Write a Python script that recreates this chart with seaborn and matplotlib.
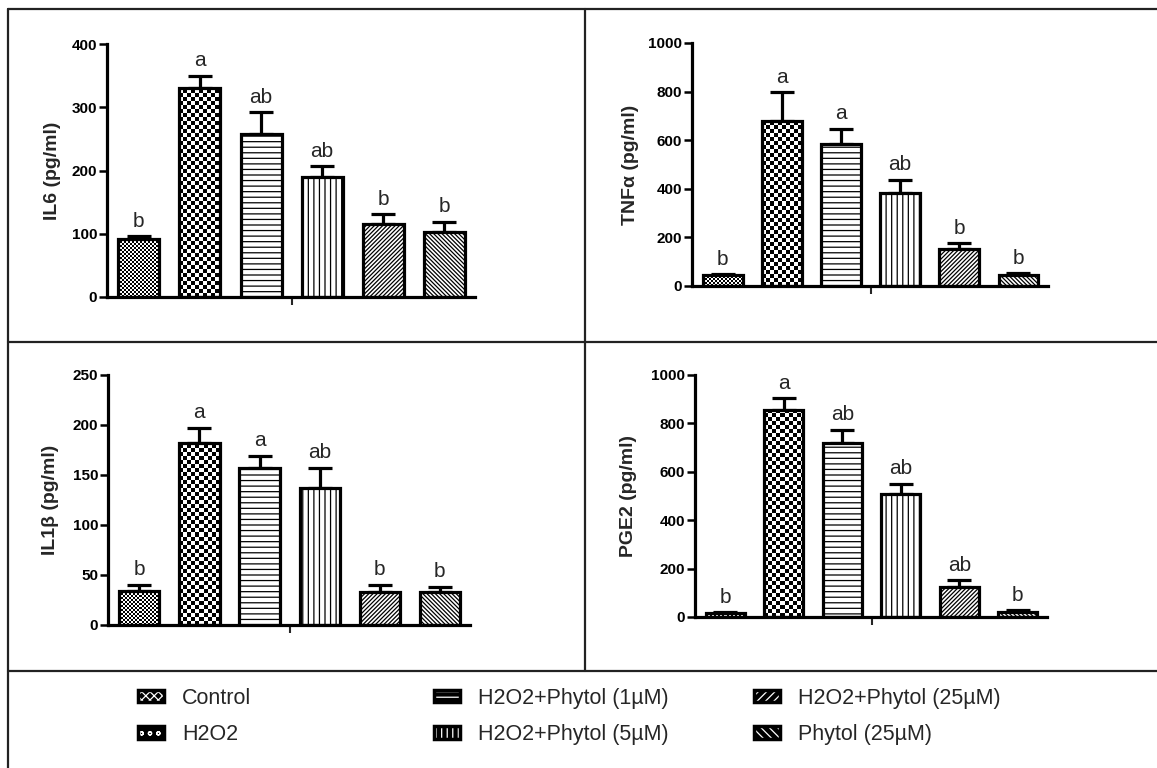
import numpy as np
import pandas as pd
import matplotlib
matplotlib.use("Agg")
import matplotlib.pyplot as plt
import seaborn as sns
from matplotlib.patches import Patch
from matplotlib.lines import Line2D

# ---------------- data ----------------
groups = ["Control", "H2O2", "H2O2+Phytol (1µM)", "H2O2+Phytol (5µM)",
          "H2O2+Phytol (25µM)", "Phytol (25µM)"]

il6_mean = [91, 330, 257, 189, 115, 102]
il6_err = [5, 20, 35, 18, 16, 17]
il6_letters = ["b", "a", "ab", "ab", "b", "b"]

tnf_mean = [45, 681, 585, 384, 151, 45]
tnf_err = [4, 117, 63, 53, 25, 7]
tnf_letters = ["b", "a", "a", "ab", "b", "b"]

il1b_mean = [34, 182, 157, 137, 33, 33]
il1b_err = [6, 15, 12, 20, 7, 5]
il1b_letters = ["b", "a", "a", "ab", "b", "b"]

pge2_mean = [17, 855, 718, 509, 126, 19]
pge2_err = [3, 49, 55, 41, 25, 8]
pge2_letters = ["b", "a", "ab", "ab", "ab", "b"]

ylabels = ["IL6 (pg/ml)", "TNFα (pg/ml)", "IL1β (pg/ml)", "PGE2 (pg/ml)"]
ymaxes = [400, 1000, 250, 1000]
ysteps = [100, 200, 50, 200]

# ---------------- style ----------------
sns.set_style("ticks")
plt.rcParams["font.family"] = ["Liberation Sans", "DejaVu Sans"]
plt.rcParams["hatch.linewidth"] = 0.9

W, H = 1157, 768
fig = plt.figure(figsize=(W / 100, H / 100), dpi=100)

def rect(left, top, right, bottom):
    return [left / W, 1 - bottom / H, (right - left) / W, (bottom - top) / H]

axes_rects = [rect(107, 44, 475, 297), rect(692, 43, 1048, 286),
              rect(108, 375, 470, 625), rect(695, 375, 1047, 617)]
label_x = [-0.125, -0.149, -0.135, -0.165]

hatches = [None, None, "---", "|||", "////////", "\\\\\\\\\\\\\\\\"]
checker_cells = {0: 2.0, 1: 4.0}
LW = 2.3

def checker_fill(ax, patch, cell):
    x0 = patch.get_x(); w = patch.get_width(); h = patch.get_height()
    p0 = ax.transData.transform((x0, 0))
    p1 = ax.transData.transform((x0 + w, h))
    nx = max(1, int(round(p1[0] - p0[0])))
    ny = max(1, int(round(p1[1] - p0[1])))
    jj, ii = np.meshgrid(np.arange(nx), np.arange(ny))
    arr = ((jj // cell + ii // cell) % 2).astype(float)
    ax.imshow(arr, cmap="gray", vmin=0, vmax=1, extent=(x0, x0 + w, 0, h),
              origin="lower", interpolation="nearest", aspect="auto", zorder=1.5)

panels = [(il6_mean, il6_err, il6_letters), (tnf_mean, tnf_err, tnf_letters),
          (il1b_mean, il1b_err, il1b_letters), (pge2_mean, pge2_err, pge2_letters)]

for k, (means, errs, letters) in enumerate(panels):
    ax = fig.add_axes(axes_rects[k])
    df = pd.DataFrame({"group": groups, "value": means})
    sns.barplot(data=df, x="group", y="value", hue="group", order=groups,
                hue_order=groups, palette=["white"] * 6, width=0.67,
                edgecolor="black", linewidth=LW, legend=False, ax=ax, errorbar=None)
    xs = np.arange(len(groups))
    ax.errorbar(xs, means, yerr=[np.zeros(len(errs)), errs], fmt="none",
                ecolor="black", elinewidth=LW, capsize=8.5, capthick=LW, zorder=1)
    ax.set_xlim(-0.52, 5.5)
    ax.set_ylim(0, ymaxes[k])
    bars = list(ax.patches)
    for i, p in enumerate(bars):
        p.set_zorder(2)
        if hatches[i] is not None:
            p.set_hatch(hatches[i])
        else:
            p.set_facecolor("none")
            checker_fill(ax, p, checker_cells[i])
    ax.set_xlim(-0.52, 5.5)
    ax.set_ylim(0, ymaxes[k])
    for i, (m, e, t) in enumerate(zip(means, errs, letters)):
        ax.annotate(t, (i, m + e), xytext=(0, 4), textcoords="offset points",
                    ha="center", va="bottom", fontsize=15)
    ax.set_yticks(np.arange(0, ymaxes[k] + 1, ysteps[k]))
    ax.set_xticks([2.5])
    ax.set_xticklabels([""])
    ax.set_xlabel("")
    ax.set_ylabel(ylabels[k], fontsize=14, fontweight="bold")
    ax.yaxis.set_label_coords(label_x[k], 0.5)
    for s in ["top", "right"]:
        ax.spines[s].set_visible(False)
    for s in ["left", "bottom"]:
        ax.spines[s].set_linewidth(LW)
        ax.spines[s].set_color("black")
    ax.tick_params(axis="y", direction="out", length=6, width=1.8, labelsize=11,
                   colors="black", pad=1)
    ax.tick_params(axis="x", direction="out", length=6, width=1.5)
    for lab in ax.get_yticklabels():
        lab.set_fontweight("bold")

# ---------------- frame lines ----------------
def fline(x0, y0, x1, y1):
    fig.add_artist(Line2D([x0 / W, x1 / W], [1 - y0 / H, 1 - y1 / H],
                          color="#222222", linewidth=1.6, transform=fig.transFigure))

fline(7.5, 9, W, 9)
fline(7.5, 9, 7.5, H)
fline(585, 9, 585, 671)
fline(7.5, 342, W, 342)
fline(7.5, 671, W, 671)

# ---------------- legend ----------------
leg_hatch = ["xxxx", "oo", "---", "|||", "////", "\\\\\\\\"]

def make_handle(h):
    base = Patch(facecolor="black", edgecolor="black", linewidth=0)
    pat = Patch(facecolor="none", edgecolor="white", linewidth=0, hatch=h)
    border = Patch(facecolor="none", edgecolor="black", linewidth=2.5)
    return (base, pat, border)

handles = [make_handle(h) for h in leg_hatch]
col_x = [138, 434, 754]
for c in range(3):
    idx = [2 * c, 2 * c + 1]
    fig.legend([handles[i] for i in idx], [groups[i] for i in idx],
               loc="upper left", bbox_to_anchor=(col_x[c] / W, 1 - 688 / H),
               frameon=False, fontsize=15.5, borderpad=0, borderaxespad=0,
               handlelength=1.2, handleheight=0.5, handletextpad=0.85,
               labelspacing=0.7)

fig.savefig("out.png", dpi=100)
